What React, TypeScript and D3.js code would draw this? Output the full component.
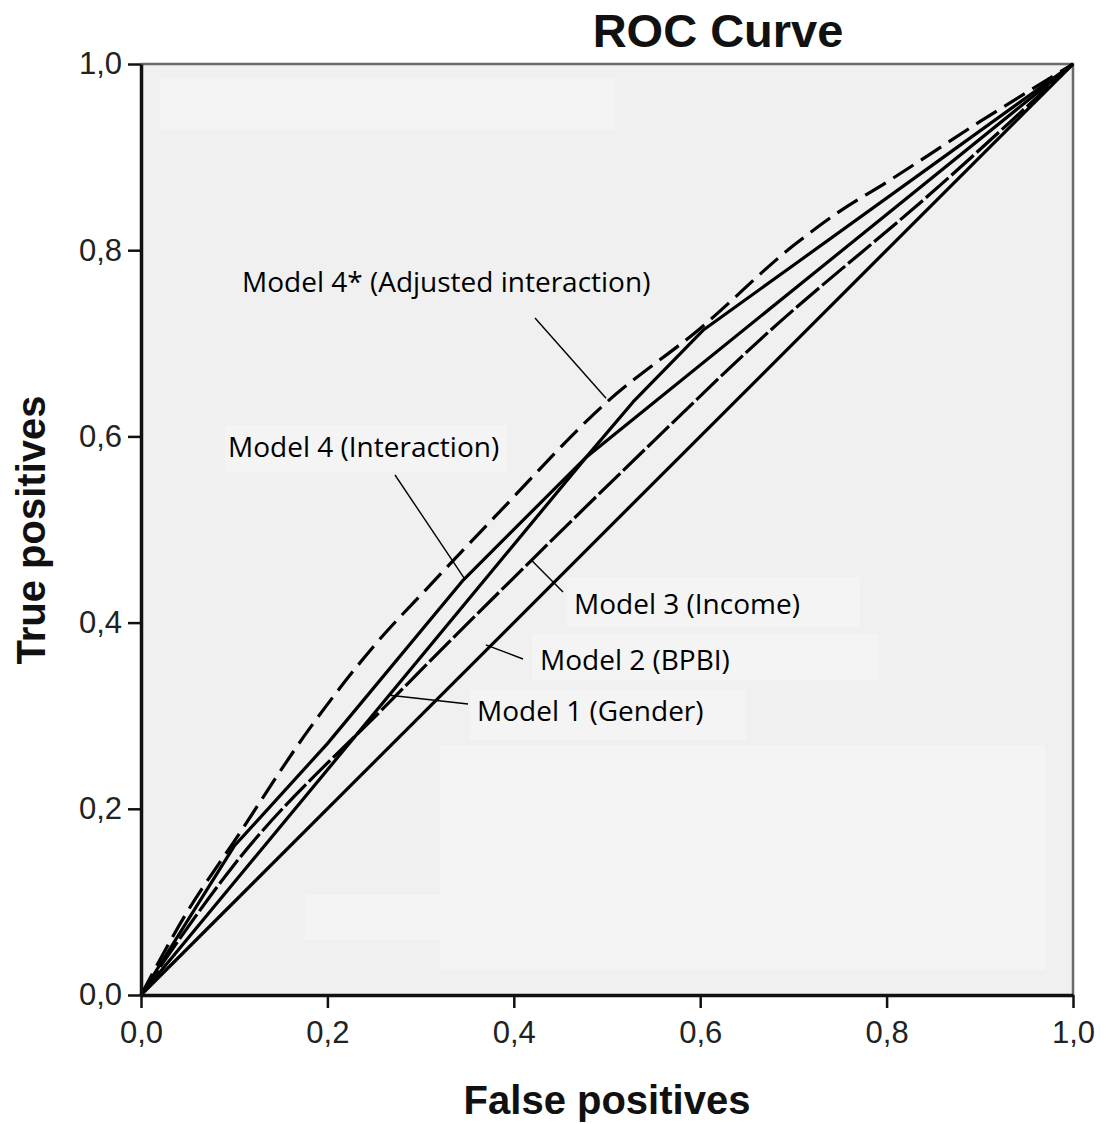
import React, { useEffect, useRef } from 'react';
import * as d3 from 'd3';

// ROC points (false positive rate, true positive rate)
const model4adjFpr = [0, 0.05, 0.1, 0.18, 0.25, 0.31, 0.38, 0.5, 0.6, 0.7, 0.75, 0.8, 0.9, 1];
const model4adjTpr = [0, 0.09, 0.165, 0.285, 0.375, 0.44, 0.514, 0.637, 0.716, 0.805, 0.842, 0.873, 0.938, 1];

const model4Fpr = [0, 0.1, 0.2, 0.346, 0.478, 0.528, 0.603, 0.703, 0.857, 1];
const model4Tpr = [0, 0.16, 0.27, 0.446, 0.578, 0.637, 0.714, 0.786, 0.897, 1];

const model3Fpr = [0, 0.1, 0.27, 0.42, 0.55, 0.66, 0.86, 1];
const model3Tpr = [0, 0.14, 0.318, 0.468, 0.595, 0.7, 0.872, 1];

const model1Fpr = [0, 0.478, 1];
const model1Tpr = [0, 0.578, 1];

const model2Fpr = [0, 1];
const model2Tpr = [0, 1];

const tickValues = [0, 0.2, 0.4, 0.6, 0.8, 1];

const labelTexts = [
  'Model 4* (Adjusted interaction)',
  'Model 4 (Interaction)',
  'Model 3 (Income)',
  'Model 2 (BPBI)',
  'Model 1 (Gender)',
];
// point on the curve each label's pointer reaches
const pointerFpr = [0.499, 0.348, 0.419, 0.37, 0.267];
const pointerTpr = [0.641, 0.446, 0.467, 0.376, 0.322];

const App = () => {
  const ref = useRef(null);

  useEffect(() => {
    const svg = d3.select(ref.current);
    svg.selectAll('*').remove();

    const x = d3.scaleLinear().domain([0, 1]).range([141, 1073]);
    const y = d3.scaleLinear().domain([0, 1]).range([995, 64]);
    const fmt = (d) => d3.format('.1f')(d).replace('.', ',');

    svg.append('rect').attr('width', 1106).attr('height', 1124).attr('fill', '#fff');

    svg
      .append('rect')
      .attr('x', x(0))
      .attr('y', y(1))
      .attr('width', x(1) - x(0))
      .attr('height', y(0) - y(1))
      .attr('fill', '#f0f0f0');

    // label boxes (slightly lighter patches behind the notes)
    const boxes = [
      [160, 78, 455, 52],
      [225, 425, 282, 47],
      [567, 577, 293, 50],
      [532, 634, 346, 46],
      [470, 690, 276, 50],
      [440, 745, 605, 225],
      [305, 895, 135, 45],
    ];
    svg
      .append('g')
      .selectAll('rect')
      .data(boxes)
      .join('rect')
      .attr('x', (d) => d[0])
      .attr('y', (d) => d[1])
      .attr('width', (d) => d[2])
      .attr('height', (d) => d[3])
      .attr('fill', '#f4f4f4');

    // frame top / right
    svg
      .append('path')
      .attr('d', `M${x(0)},${y(1)}H${x(1)}V${y(0)}`)
      .attr('fill', 'none')
      .attr('stroke', '#6a6a6a')
      .attr('stroke-width', 2.5);

    const series = [
      { fpr: model2Fpr, tpr: model2Tpr, dash: null, curve: d3.curveLinear },
      { fpr: model1Fpr, tpr: model1Tpr, dash: null, curve: d3.curveLinear },
      { fpr: model3Fpr, tpr: model3Tpr, dash: '30 4', curve: d3.curveMonotoneX },
      { fpr: model4Fpr, tpr: model4Tpr, dash: null, curve: d3.curveLinear },
      { fpr: model4adjFpr, tpr: model4adjTpr, dash: '24 9', curve: d3.curveMonotoneX },
    ];

    svg
      .append('g')
      .selectAll('path')
      .data(series)
      .join('path')
      .attr('d', (s) =>
        d3
          .line()
          .x((d) => x(d[0]))
          .y((d) => y(d[1]))
          .curve(s.curve)(s.fpr.map((f, i) => [f, s.tpr[i]]))
      )
      .attr('fill', 'none')
      .attr('stroke', '#000')
      .attr('stroke-width', 3.2)
      .attr('stroke-linejoin', 'round')
      .attr('stroke-dasharray', (s) => s.dash);

    // axes
    const xAxis = svg
      .append('g')
      .attr('transform', `translate(0,${y(0)})`)
      .call(d3.axisBottom(x).tickValues(tickValues).tickFormat(fmt).tickSize(13).tickSizeOuter(0).tickPadding(13));
    const yAxis = svg
      .append('g')
      .attr('transform', `translate(${x(0)},0)`)
      .call(d3.axisLeft(y).tickValues(tickValues).tickFormat(fmt).tickSize(13).tickSizeOuter(0).tickPadding(6));

    [xAxis, yAxis].forEach((a) => {
      a.select('.domain').attr('stroke', '#111').attr('stroke-width', 3.5);
      a.selectAll('.tick line').attr('stroke', '#111').attr('stroke-width', 2.5);
      a.selectAll('.tick text')
        .attr('fill', '#222')
        .style('font-family', '"Liberation Sans", Arial, sans-serif')
        .style('font-size', '31px');
    });

    // notes with pointer lines
    const labelX = [242, 228, 574, 540, 477];
    const labelY = [292, 457, 614, 670, 721];
    const fromX = [535, 395, 563, 523, 468];
    const fromY = [318, 475, 592, 659, 704];

    const notes = svg.append('g');
    labelTexts.forEach((t, i) => {
      notes
        .append('line')
        .attr('x1', fromX[i])
        .attr('y1', fromY[i])
        .attr('x2', x(pointerFpr[i]))
        .attr('y2', y(pointerTpr[i]))
        .attr('stroke', '#000')
        .attr('stroke-width', 1.4);
      notes
        .append('text')
        .attr('x', labelX[i])
        .attr('y', labelY[i])
        .attr('fill', '#000')
        .style('font-family', '"Open Sans", "Noto Sans", sans-serif')
        .style('font-size', '28px')
        .text(t);
    });

    // titles
    svg
      .append('text')
      .attr('x', 718)
      .attr('y', 47)
      .attr('text-anchor', 'middle')
      .style('font-family', '"Liberation Sans", Arial, sans-serif')
      .style('font-weight', 'bold')
      .style('font-size', '47px')
      .attr('fill', '#111')
      .text('ROC Curve');

    svg
      .append('text')
      .attr('x', 607)
      .attr('y', 1114)
      .attr('text-anchor', 'middle')
      .style('font-family', '"Liberation Sans", Arial, sans-serif')
      .style('font-weight', 'bold')
      .style('font-size', '40px')
      .attr('fill', '#111')
      .text('False positives');

    svg
      .append('text')
      .attr('transform', 'translate(45,530) rotate(-90)')
      .attr('text-anchor', 'middle')
      .style('font-family', '"Liberation Sans", Arial, sans-serif')
      .style('font-weight', 'bold')
      .style('font-size', '40px')
      .attr('fill', '#111')
      .text('True positives');
  }, []);

  return (
    <svg
      ref={ref}
      width={1106}
      height={1124}
      style={{ display: 'block', position: 'absolute', left: 0, top: 0 }}
    ></svg>
  );
};

export default App;
